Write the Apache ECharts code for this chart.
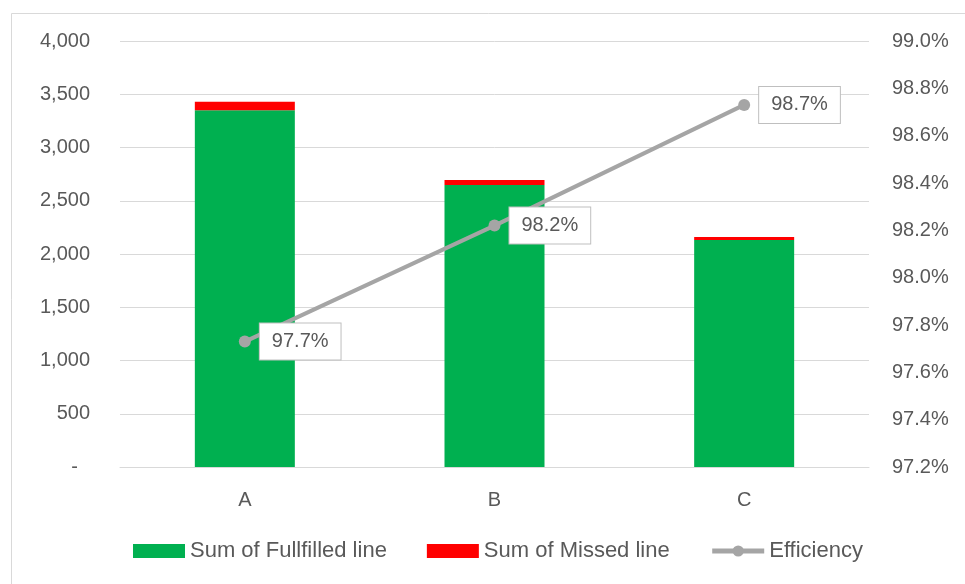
<!DOCTYPE html>
<html>
<head>
<meta charset="utf-8">
<script src="https://cdn.jsdelivr.net/npm/echarts@6/dist/echarts.min.js"></script>
<style>html,body{margin:0;padding:0;background:#fff;}#c{width:965px;height:584px;}</style>
</head>
<body>
<div id="c"></div>
<script>
const categories = ['A', 'B', 'C'];
const fulfilled = [3350, 2647, 2132];
const missed = [80, 48, 28];
const efficiency = [97.73, 98.22, 98.73];

const FONT = 'Liberation Sans';
const TXT = '#595959';
const chart = echarts.init(document.getElementById('c'));
chart.setOption({
  animation: false,
  backgroundColor: '#fff',
  textStyle: { fontFamily: FONT },
  graphic: [{
    type: 'rect', left: 9, top: 11, silent: true,
    shape: { width: 1000, height: 1000 },
    style: { fill: 'none', stroke: '#d9d9d9', lineWidth: 1 }
  }],
  grid: { left: 120, right: 96, top: 41, bottom: 117 },
  legend: {
    left: 133, top: 540, padding: 0,
    itemWidth: 52, itemHeight: 14, itemGap: 40,
    textStyle: { fontFamily: FONT, fontSize: 22, color: TXT },
    data: [
      { name: 'Sum of Fullfilled line', icon: 'rect' },
      { name: 'Sum of Missed line', icon: 'rect' },
      { name: 'Efficiency', lineStyle: { width: 5, color: '#a5a5a5' }, itemStyle: { color: '#a5a5a5' } }
    ]
  },
  xAxis: {
    type: 'category', data: categories,
    axisLine: { lineStyle: { color: '#d9d9d9', width: 1 } },
    axisTick: { show: false },
    axisLabel: { color: TXT, fontSize: 20, fontFamily: FONT, margin: 23 }
  },
  yAxis: [{
    type: 'value', min: 0, max: 4000, interval: 500,
    axisLine: { show: false }, axisTick: { show: false },
    splitLine: { lineStyle: { color: '#d9d9d9', width: 1 } },
    axisLabel: {
      color: TXT, fontSize: 20, fontFamily: FONT, margin: 30,
      formatter: v => v === 0 ? '{d|-}' : v.toLocaleString('en-US'),
      rich: { d: { color: TXT, fontSize: 20, fontFamily: FONT, padding: [0, 12, 0, 0] } }
    }
  }, {
    type: 'value', min: 97.2, max: 99.0, interval: 0.2,
    axisLine: { show: false }, axisTick: { show: false },
    splitLine: { show: false },
    axisLabel: {
      color: TXT, fontSize: 20, fontFamily: FONT, margin: 23,
      formatter: v => v.toFixed(1) + '%'
    }
  }],
  series: [{
    name: 'Sum of Fullfilled line', type: 'bar', stack: 't', barWidth: 100,
    itemStyle: { color: '#00b050' }, data: fulfilled
  }, {
    name: 'Sum of Missed line', type: 'bar', stack: 't', barWidth: 100,
    itemStyle: { color: '#ff0000' }, data: missed
  }, {
    name: 'Efficiency', type: 'line', yAxisIndex: 1,
    symbol: 'circle', symbolSize: 12,
    lineStyle: { color: '#a5a5a5', width: 4 },
    itemStyle: { color: '#a5a5a5' },
    label: {
      show: true, position: 'right', distance: 9,
      formatter: p => p.value.toFixed(1) + '%',
      fontFamily: FONT, fontSize: 20, color: TXT, lineHeight: 20,
      backgroundColor: '#fff', borderColor: '#bfbfbf', borderWidth: 1,
      padding: [8, 12]
    },
    data: efficiency, z: 5
  }]
});
</script>
</body>
</html>
